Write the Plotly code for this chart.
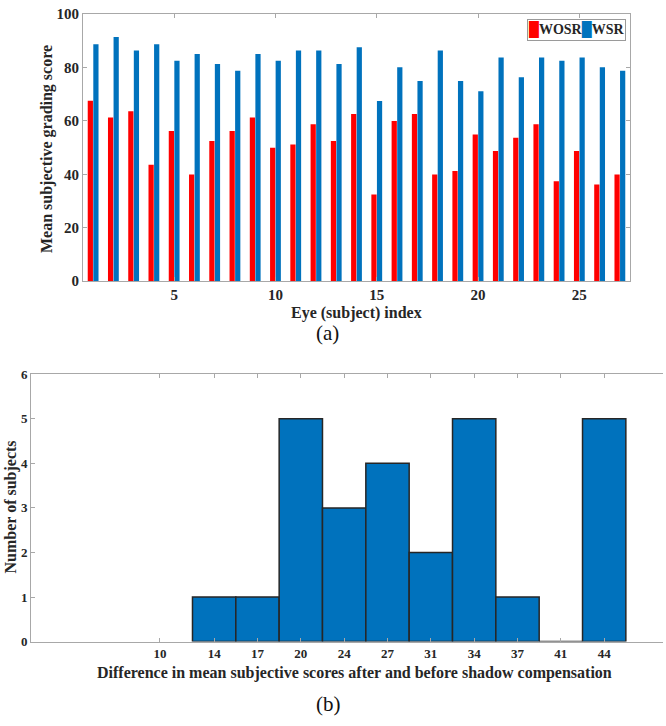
import plotly.graph_objects as go

# (a) mean subjective grading score per eye
subject_index = list(range(1, 28))
wosr = [67.5, 61.2, 63.6, 43.6, 56.2, 39.9, 52.4, 56.2, 61.2, 49.9, 51.1, 58.7, 52.4, 62.5,
        32.4, 59.9, 62.5, 39.9, 41.2, 54.9, 48.7, 53.7, 58.7, 37.4, 48.7, 36.2, 39.9]
wsr = [88.6, 91.3, 86.3, 88.6, 82.5, 85.0, 81.2, 78.7, 85.0, 82.5, 86.3, 86.3, 81.2, 87.5,
       67.4, 80.0, 74.9, 86.3, 74.9, 71.1, 83.7, 76.3, 83.7, 82.5, 83.7, 80.0, 78.7]

# (b) histogram of score differences
bin_centers = [14.2, 17.56, 20.92, 24.28, 27.64, 31.0, 34.36, 37.72, 41.08, 44.44]
bin_labels = ["14", "17", "20", "24", "27", "31", "34", "37", "41", "44"]
counts = [1, 1, 5, 3, 4, 2, 5, 1, 0, 5]
bin_width = 3.36

W, H = 666, 726
FONT = "Liberation Serif, Times New Roman, serif"
AX = "#a8a8a8"
TXT = "#262626"
RED = "#ff0000"
BLUE = "#0072bd"

def px_x(a, b):
    return [a / W, b / W]

def px_y(top, bottom):
    return [1 - bottom / H, 1 - top / H]

fig = go.Figure()
fig.add_trace(go.Bar(x=subject_index, y=wosr, name="WOSR", marker_color=RED,
                     marker_line_width=0, xaxis="x", yaxis="y"))
fig.add_trace(go.Bar(x=subject_index, y=wsr, name="WSR", marker_color=BLUE,
                     marker_line_width=0, xaxis="x", yaxis="y"))
fig.add_trace(go.Bar(x=bin_centers, y=counts, width=bin_width,
                     marker=dict(color=BLUE, line=dict(color="#262626", width=1.5)),
                     xaxis="x2", yaxis="y2"))

def bold(size):
    return dict(family=FONT, size=size, color=TXT, weight="bold")

axis_common = dict(showline=True, linecolor=AX, linewidth=1, ticks="inside", ticklen=4,
                   tickcolor=AX, showgrid=False, zeroline=False)

# compact legend like the matlab one: coloured blocks + names in a box
legend_text = (f"<span style='color:{RED}'>█</span>WOSR"
               f"<span style='color:{BLUE}'>█</span>WSR")


def label(text, x, y, font, angle=0):
    # centred text placed in page pixels
    return dict(text=text, xref="paper", yref="paper", x=x / W, y=1 - y / H,
                xanchor="center", yanchor="middle", textangle=angle,
                showarrow=False, font=font)


serif_big = dict(family=FONT, size=21, color="#111111")

fig.update_layout(
    width=W, height=H,
    margin=dict(l=0, r=0, t=0, b=0),
    paper_bgcolor="white", plot_bgcolor="white",
    showlegend=False,
    barmode="group", bargap=0.45, bargroupgap=0.06,
    xaxis=dict(domain=px_x(83, 630), anchor="y", range=[0.5, 27.5], tickvals=[5, 10, 15, 20, 25],
               mirror="ticks", tickfont=bold(15), **axis_common),
    yaxis=dict(domain=px_y(7, 280), anchor="x", range=[0, 100], dtick=20,
               mirror="ticks", tickfont=bold(15), **axis_common),
    xaxis2=dict(domain=px_x(31, 663), anchor="y2", range=[0, 49],
                tickvals=[10] + bin_centers, ticktext=["10"] + bin_labels,
                mirror="ticks", tickfont=bold(13), **axis_common),
    yaxis2=dict(domain=px_y(375, 648), anchor="x2", range=[0, 6], dtick=1,
                tickfont=bold(13), **axis_common),
    annotations=[
        dict(text=legend_text, xref="paper", yref="paper", x=626 / W, y=1 - 12 / H,
             xanchor="right", yanchor="top", showarrow=False, bordercolor="#9a9a9a",
             borderwidth=1, borderpad=1, bgcolor="white", font=bold(14)),
        label("Mean subjective grading score", 47, 145, bold(16), -90),
        label("Eye (subject) index", 356, 312, bold(16)),
        label("(a)", 327, 333, serif_big),
        label("Number of subjects", 11, 511, bold(16), -90),
        label("Difference in mean subjective scores after and before shadow compensation",
              354, 680, bold(16)),
        label("(b)", 328, 712, serif_big),
    ],
)

fig.write_html("out.html", config={"displayModeBar": False},
               post_script="document.body.style.margin='0';")
